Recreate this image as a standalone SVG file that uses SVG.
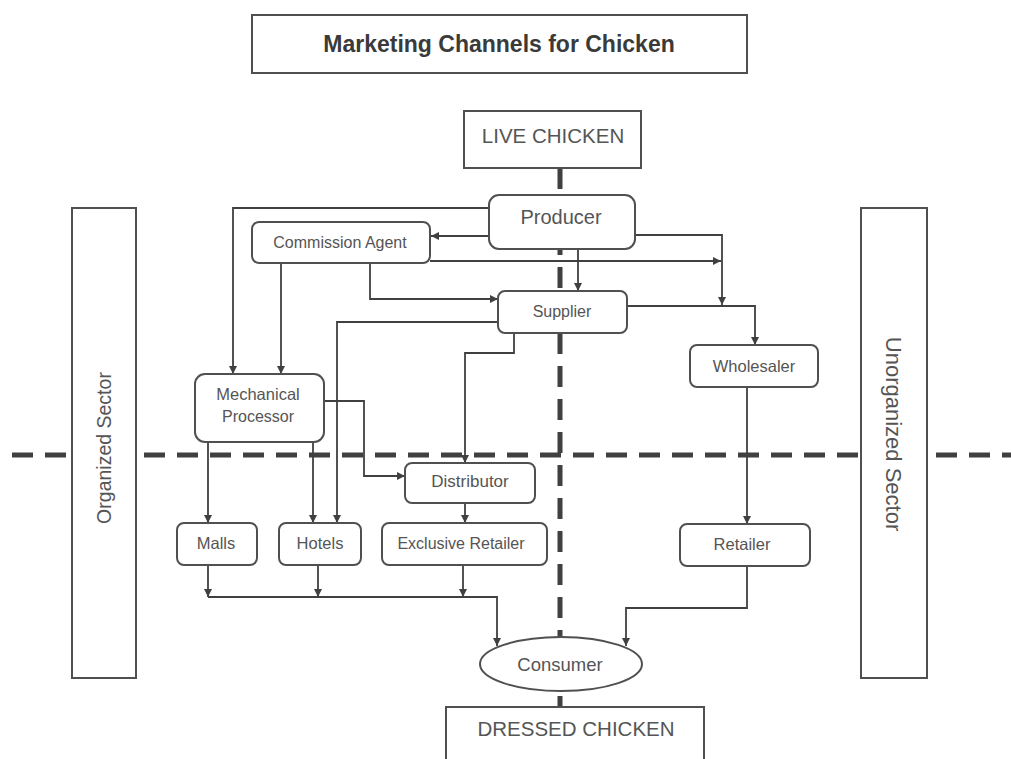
<svg xmlns="http://www.w3.org/2000/svg" width="1011" height="759" viewBox="0 0 1011 759">
<style>
.bg{fill:#ffffff}
.box{fill:#ffffff;stroke:#505050;stroke-width:2}
.node{fill:#ffffff;stroke:#505050;stroke-width:2}
.t{font-family:"Liberation Sans",Arial,sans-serif;fill:#555555;text-anchor:middle}
.c{fill:none;stroke:#404040;stroke-width:1.8}
.dash{fill:none;stroke:#404040;stroke-width:5;stroke-dasharray:21 12}
</style>
<defs>
<marker id="ah" markerUnits="userSpaceOnUse" markerWidth="9" markerHeight="9" refX="8" refY="4" orient="auto">
<path d="M0,0 L8,4 L0,8 z" fill="#404040"/>
</marker>
</defs>
<rect class="bg" x="0" y="0" width="1011" height="759"/>

<g id="dividers">
<line class="dash" x1="12" y1="455" x2="1011" y2="455"/>
<line class="dash" x1="560" y1="168" x2="560" y2="707"/>
</g>

<g id="title">
<rect class="box" x="252" y="15" width="495" height="58"/>
<text class="t" x="499" y="52" style="font-size:23px;font-weight:bold;fill:#3a3a3a">Marketing Channels for Chicken</text>
</g>

<g id="organized-sector">
<rect class="box" x="72" y="208" width="64" height="470"/>
<text class="t" transform="translate(111,448) rotate(-90)" style="font-size:19.5px">Organized Sector</text>
</g>

<g id="unorganized-sector">
<rect class="box" x="861" y="208" width="66" height="470"/>
<text class="t" transform="translate(886,434) rotate(90)" style="font-size:22px">Unorganized Sector</text>
</g>

<g id="connectors">
<polyline class="c" points="489,208 233,208 233,374" marker-end="url(#ah)"/>
<polyline class="c" points="489,236 431,236" marker-end="url(#ah)"/>
<polyline class="c" points="430,261 721,261" marker-end="url(#ah)"/>
<polyline class="c" points="635,235 722,235 722,305" marker-end="url(#ah)"/>
<polyline class="c" points="578,249 578,291" marker-end="url(#ah)"/>
<polyline class="c" points="627,306 755,306 755,345" marker-end="url(#ah)"/>
<polyline class="c" points="281,263 281,374" marker-end="url(#ah)"/>
<polyline class="c" points="370,263 370,299 498,299" marker-end="url(#ah)"/>
<polyline class="c" points="498,322 337,322 337,523" marker-end="url(#ah)"/>
<polyline class="c" points="514,333 514,353 465,353 465,463" marker-end="url(#ah)"/>
<polyline class="c" points="324,401 364,401 364,476 405,476" marker-end="url(#ah)"/>
<polyline class="c" points="208,442 208,523" marker-end="url(#ah)"/>
<polyline class="c" points="313,442 313,523" marker-end="url(#ah)"/>
<polyline class="c" points="465,503 465,523" marker-end="url(#ah)"/>
<polyline class="c" points="747,387 747,524" marker-end="url(#ah)"/>
<polyline class="c" points="208,565 208,597" marker-end="url(#ah)"/>
<polyline class="c" points="318,565 318,597" marker-end="url(#ah)"/>
<polyline class="c" points="463,565 463,597" marker-end="url(#ah)"/>
<polyline class="c" points="208,597 497,597 497,646" marker-end="url(#ah)"/>
<polyline class="c" points="747,566 747,608 626,608 626,646" marker-end="url(#ah)"/>
</g>

<g id="live-chicken">
<rect class="box" x="464" y="111" width="177" height="57"/>
<text class="t" x="553" y="143" style="font-size:20.5px">LIVE CHICKEN</text>
</g>

<g id="producer">
<rect class="node" x="489" y="195" width="146" height="54" rx="10"/>
<text class="t" x="561" y="224" style="font-size:20px">Producer</text>
</g>

<g id="commission-agent">
<rect class="node" x="252" y="222" width="178" height="41" rx="7"/>
<text class="t" x="340" y="248" style="font-size:16px">Commission Agent</text>
</g>

<g id="supplier">
<rect class="node" x="498" y="291" width="129" height="42" rx="7"/>
<text class="t" x="562" y="317" style="font-size:16px">Supplier</text>
</g>

<g id="wholesaler">
<rect class="node" x="690" y="345" width="128" height="42" rx="7"/>
<text class="t" x="754" y="372" style="font-size:16.5px">Wholesaler</text>
</g>

<g id="mechanical-processor">
<rect class="node" x="195" y="374" width="129" height="68" rx="10"/>
<text class="t" x="258" y="400" style="font-size:16.5px">Mechanical</text>
<text class="t" x="258" y="422" style="font-size:16px">Processor</text>
</g>

<g id="distributor">
<rect class="node" x="405" y="463" width="130" height="40" rx="7"/>
<text class="t" x="470" y="487" style="font-size:17px">Distributor</text>
</g>

<g id="malls">
<rect class="node" x="177" y="523" width="80" height="42" rx="7"/>
<text class="t" x="216" y="549" style="font-size:16.5px">Malls</text>
</g>

<g id="hotels">
<rect class="node" x="279" y="523" width="82" height="42" rx="7"/>
<text class="t" x="320" y="549" style="font-size:16.5px">Hotels</text>
</g>

<g id="exclusive-retailer">
<rect class="node" x="382" y="523" width="165" height="42" rx="7"/>
<text class="t" x="461" y="549" style="font-size:16px">Exclusive Retailer</text>
</g>

<g id="retailer">
<rect class="node" x="680" y="524" width="130" height="42" rx="7"/>
<text class="t" x="742" y="550" style="font-size:16.5px">Retailer</text>
</g>

<g id="consumer">
<ellipse class="node" cx="561" cy="664" rx="81" ry="27"/>
<text class="t" x="560" y="671" style="font-size:18.5px">Consumer</text>
</g>

<g id="dressed-chicken">
<rect class="box" x="446" y="707" width="258" height="70"/>
<text class="t" x="576" y="736" style="font-size:20.5px">DRESSED CHICKEN</text>
</g>
</svg>
